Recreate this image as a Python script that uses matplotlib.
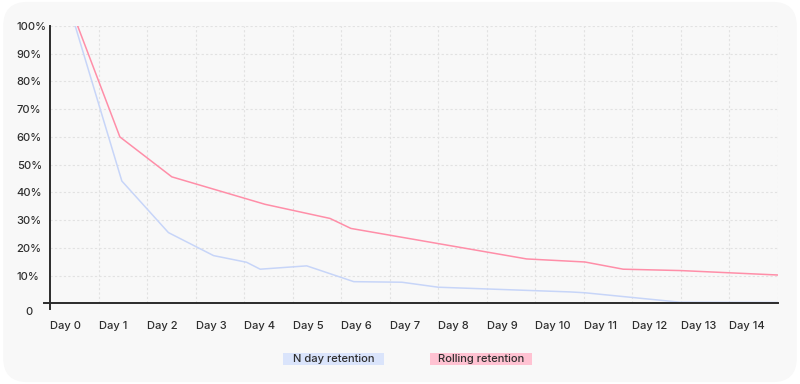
import numpy as np
from matplotlib import pyplot as plt
from matplotlib.patches import FancyBboxPatch, Rectangle

# Day labels and y ticks
days = ['Day %d' % i for i in range(15)]
y_ticks = [10, 20, 30, 40, 50, 60, 70, 80, 90, 100]
y_labels = ['10%', '20%', '30%', '40%', '50%', '60%', '70%', '80%', '90%', '100%']

# N day retention (x in days, y in %)
nday_x = [0.52, 1.48, 2.44, 3.37, 4.05, 4.33, 5.29, 6.26, 7.25, 8.0, 10.72, 11.02, 12.98, 15.0]
nday_y = [100, 44.1, 25.5, 17.2, 14.8, 12.3, 13.5, 7.8, 7.6, 5.8, 4.1, 3.8, 0.4, 0.3]

# Rolling retention
roll_x = [0.57, 1.44, 2.51, 4.43, 5.77, 6.20, 9.82, 11.02, 11.81, 13.0, 15.0]
roll_y = [100, 60.0, 45.6, 35.7, 30.6, 27.0, 16.0, 14.9, 12.3, 11.8, 10.2]

plt.rcParams['font.family'] = ['Inter', 'DejaVu Sans']
txt_color = '#2e2e2e'

fig = plt.figure(figsize=(8, 3.84), dpi=100)
fig.patch.set_facecolor('white')
card = FancyBboxPatch((0.004, 0.005), 0.992, 0.99, boxstyle='round,pad=0,rounding_size=0.03',
                      transform=fig.transFigure, fc='#f8f8f8', ec='none',
                      mutation_aspect=800/384, zorder=-10)
fig.patches.append(card)

ax = fig.add_axes([50/800, 1 - 303.3/384, 728/800, 277.3/384])
ax.set_facecolor('none')
ax.set_zorder(5)
ax.set_xlim(0, 15)
ax.set_ylim(0, 100)

for s in ax.spines.values():
    s.set_visible(False)

grid_kw = dict(color='#e2e2e2', lw=0.8, ls=(0, (2, 2)), zorder=0)
for i in range(1, 16):
    ax.axvline(i, **grid_kw)
for v in y_ticks:
    ax.axhline(v, **grid_kw)

ax.plot(nday_x, nday_y, color='#c7d5f8', lw=1.1, zorder=3)
ax.plot(roll_x, roll_y, color='#ff8ea8', lw=1.1, zorder=3)

# axis lines
ax.plot([-6/728, 1], [0, 0], transform=ax.transAxes,
        color='#2b2b2b', lw=1.4, clip_on=False, zorder=4)
ax.plot([0, 0], [-5.4/277.3, 1], transform=ax.transAxes, color='#2b2b2b', lw=1.4,
        clip_on=False, zorder=4)

ax.set_xticks(range(15))
ax.set_xticklabels(days, ha='left', fontsize=8, color=txt_color, fontweight='medium')
ax.tick_params(axis='x', length=0, pad=13)

ax.set_yticks(y_ticks)
ax.set_yticklabels(y_labels, ha='left', fontsize=8, color=txt_color, fontweight='medium')
ax.tick_params(axis='y', length=0, pad=24)
ax.annotate('0', xy=(0, 0), xycoords=('axes fraction', 'data'), xytext=(-15, -6),
            textcoords='offset points', ha='center', va='center', fontsize=8,
            color=txt_color, fontweight='medium')

# legend
fig.patches.append(Rectangle((283/800, 1 - 365/384), 101/800, 12/384, transform=fig.transFigure,
                             fc='#dae4fb', ec='none'))
fig.text(333.5/800, 1 - 359/384, 'N day retention', ha='center', va='center', fontsize=8,
         color=txt_color, fontweight='medium')
fig.patches.append(Rectangle((430/800, 1 - 365/384), 102/800, 12/384, transform=fig.transFigure,
                             fc='#ffc2d2', ec='none'))
fig.text(481/800, 1 - 359/384, 'Rolling retention', ha='center', va='center', fontsize=8,
         color=txt_color, fontweight='medium')

fig.savefig('out.png', dpi=100)
